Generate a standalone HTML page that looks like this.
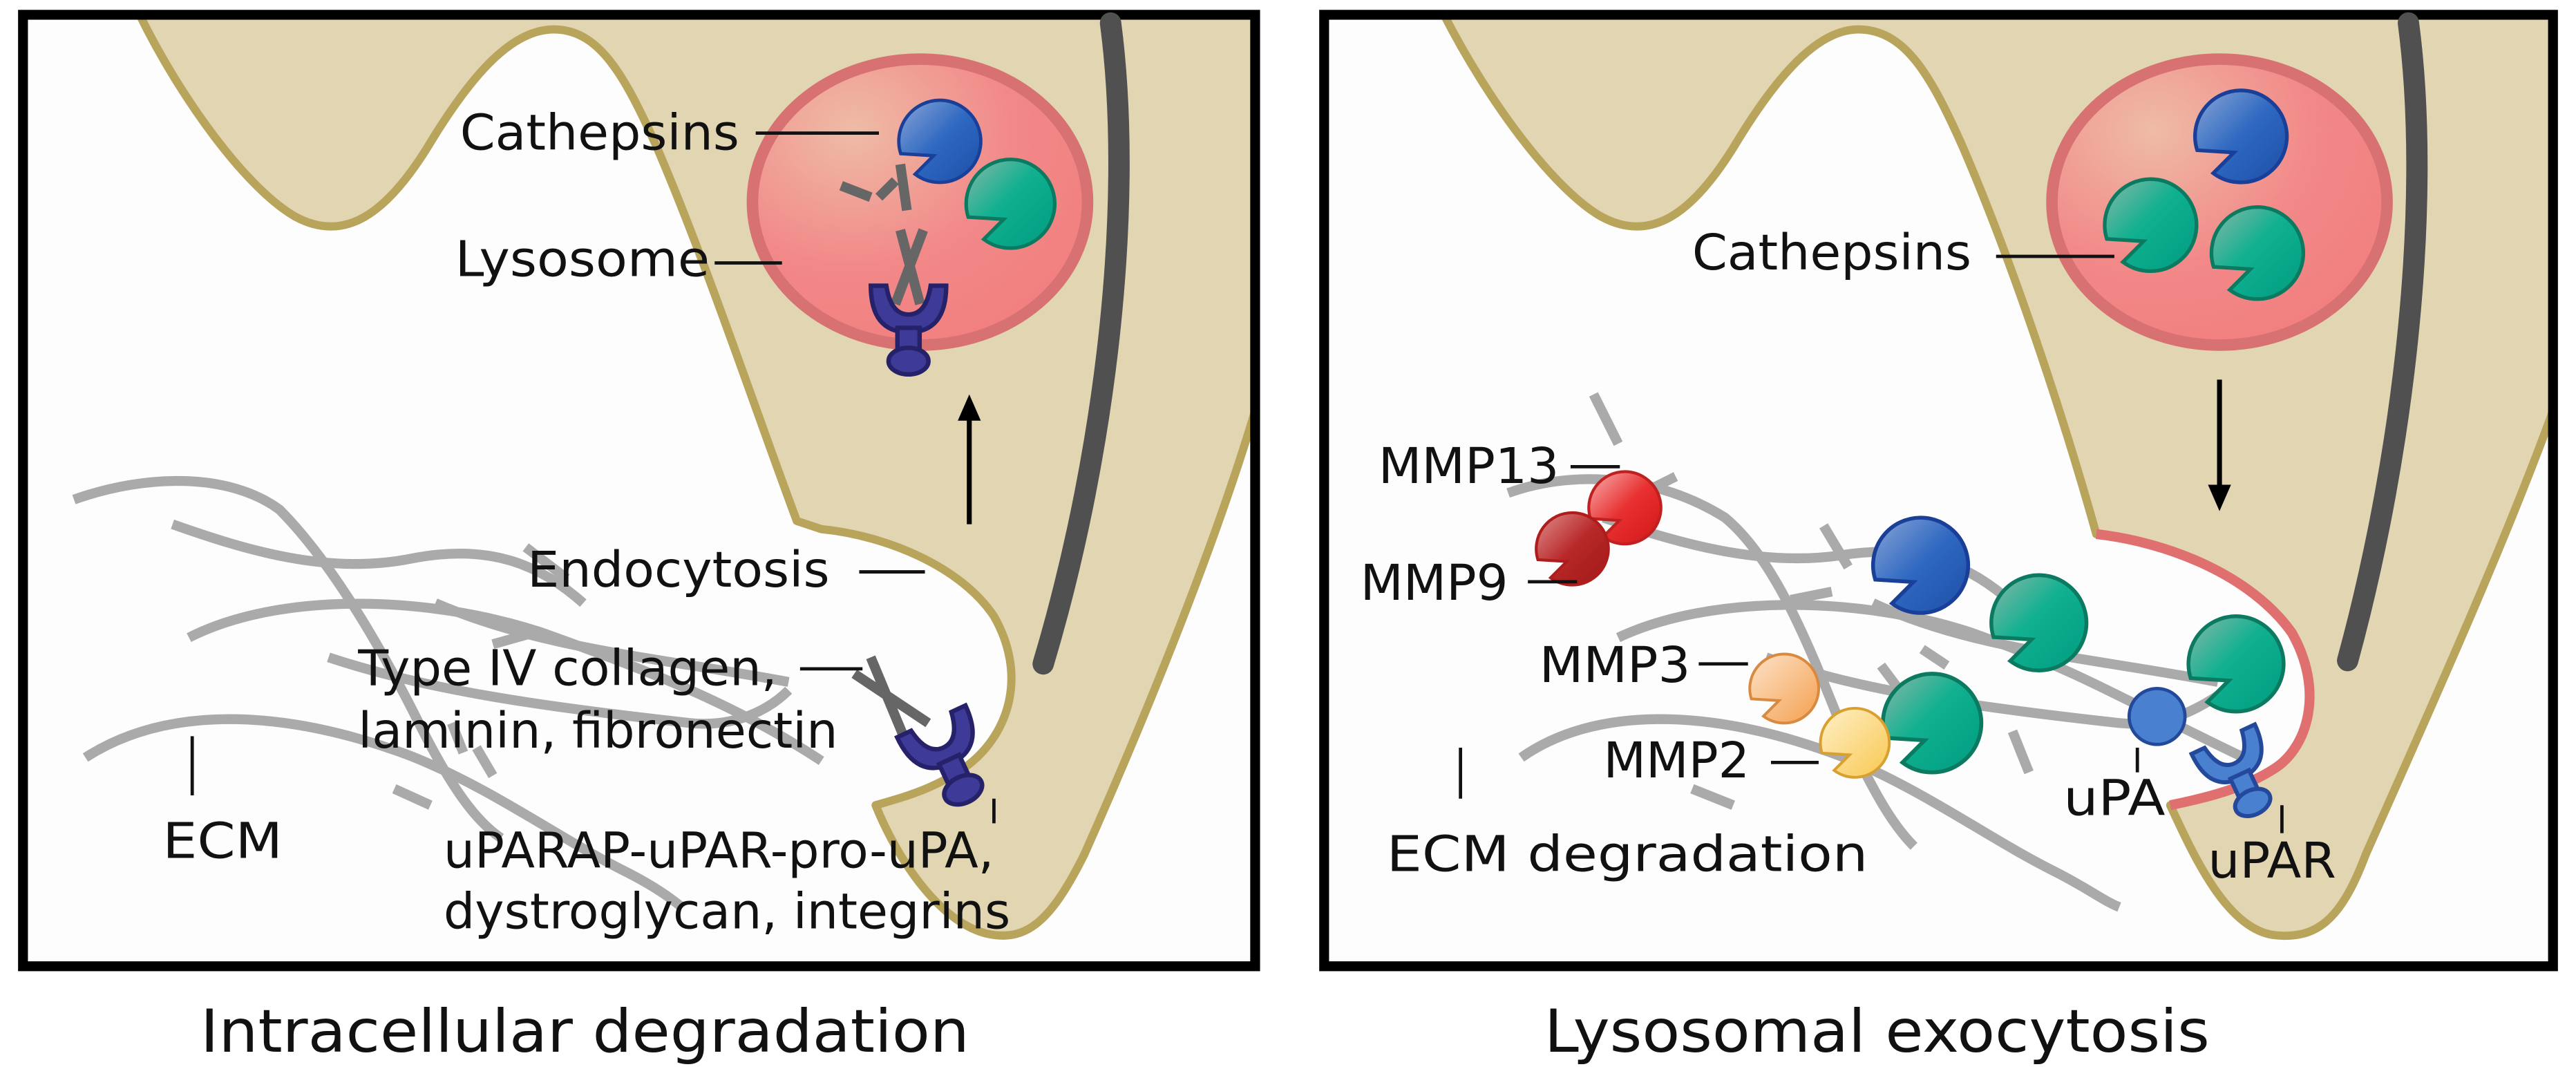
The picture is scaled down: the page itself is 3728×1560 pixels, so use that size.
<!DOCTYPE html>
<html><head><meta charset="utf-8"><style>html,body{margin:0;padding:0;background:#fff}svg{display:block}</style></head>
<body>
<svg width="3728" height="1560" viewBox="0 0 1568 656" preserveAspectRatio="none" xmlns="http://www.w3.org/2000/svg" font-family="'DejaVu Sans','Liberation Sans',sans-serif">
<defs>
<radialGradient id="lys" cx="0.3" cy="0.25" r="0.8"><stop offset="0" stop-color="#eebca6"/><stop offset="0.6" stop-color="#f28888"/><stop offset="1" stop-color="#f28080"/></radialGradient>
<linearGradient id="gB" x1="0" y1="0" x2="1" y2="1"><stop offset="0" stop-color="#8aa6d8"/><stop offset="0.5" stop-color="#2e68c0"/><stop offset="1" stop-color="#1e4fa8"/></linearGradient>
<linearGradient id="gG" x1="0" y1="0" x2="1" y2="1"><stop offset="0" stop-color="#8ab8a8"/><stop offset="0.45" stop-color="#10b090"/><stop offset="1" stop-color="#009c80"/></linearGradient>
<linearGradient id="gR" x1="0" y1="0" x2="1" y2="1"><stop offset="0" stop-color="#f8b0b0"/><stop offset="0.5" stop-color="#e83030"/><stop offset="1" stop-color="#d01818"/></linearGradient>
<linearGradient id="gDR" x1="0" y1="0" x2="1" y2="1"><stop offset="0" stop-color="#e09090"/><stop offset="0.5" stop-color="#b82828"/><stop offset="1" stop-color="#a01818"/></linearGradient>
<linearGradient id="gO" x1="0" y1="0" x2="1" y2="1"><stop offset="0" stop-color="#fde2c8"/><stop offset="1" stop-color="#f4a050"/></linearGradient>
<linearGradient id="gY" x1="0" y1="0" x2="1" y2="1"><stop offset="0" stop-color="#fff0c8"/><stop offset="1" stop-color="#f8c850"/></linearGradient>
</defs>
<rect width="1568" height="656" fill="#fff"/>

<!-- ============ LEFT PANEL ============ -->
<rect x="14" y="9" width="750" height="579" fill="#fdfdfd"/>
<path d="M85 9 C110 60 150 115 180 132 C210 148 235 130 260 90 C290 40 315 16 340 18 C365 20 380 45 400 90 C430 160 460 250 485 317 L500 322 C540 326 585 345 605 375 C625 410 615 445 590 465 C570 480 550 485 533 490 C545 520 570 560 600 568 C625 574 640 560 660 520 C700 430 740 330 764 250 L764 9 Z" fill="#e1d5b2" stroke="#b9a45c" stroke-width="5" stroke-linejoin="round"/>
<rect x="14" y="9" width="750" height="579" fill="none" stroke="#000" stroke-width="6"/>
<path d="M676 14 C690 120 675 270 635 404" fill="none" stroke="#505050" stroke-width="13" stroke-linecap="round"/>
<ellipse cx="560" cy="123" rx="102" ry="87" fill="url(#lys)" stroke="#d87272" stroke-width="7"/>
<g fill="none" stroke="#aaa" stroke-width="6">
<path d="M45 304 C90 288 140 288 170 310 C200 340 230 390 255 440 C275 480 290 500 305 510"/>
<path d="M105 319 C150 335 200 350 250 340 C300 330 330 345 355 367"/>
<path d="M115 388 C170 360 260 362 330 385 C400 410 450 430 500 463"/>
<path d="M52 461 C100 430 170 430 250 460 C300 480 340 510 380 530 C400 540 410 548 415 552"/>
<path d="M265 367 C330 395 400 400 480 415"/>
<path d="M200 400 C260 420 330 430 420 440 C450 443 470 430 480 420"/>
<path d="M320 333 L345 352 M300 392 L325 385 M275 440 L282 458 M240 480 L262 490 M290 455 L300 472"/>
</g>
<g stroke="#666" stroke-width="6" fill="none">
<path d="M520 410 L565 440 M530 400 L555 460"/>
<path d="M545 185 L562 140 M560 185 L548 140 M512 113 L530 120 M535 120 L545 110 M548 100 L552 128"/>
</g>
<g transform="translate(572,86) scale(25)" fill="url(#gB)" stroke="#1a3f98" stroke-width="0.08"><path d="M-0.6 0.8 A1 1 0 0 0 0.6 0.8 A1 1 0 0 0 0 -1 A1 1 0 0 0 -0.95 0.3 L-0.15 0.35 Z"/></g>
<g transform="translate(615,124) scale(27)" fill="url(#gG)" stroke="#0c7a60" stroke-width="0.08"><path d="M-0.6 0.8 A1 1 0 0 0 0.6 0.8 A1 1 0 0 0 0 -1 A1 1 0 0 0 -0.95 0.3 L-0.15 0.35 Z"/></g>
<g fill="#3d3a98" stroke="#26226a" stroke-width="2">
<g transform="translate(553,186) scale(1.35)"><path d="M-17 -9 Q-17 12 0 12 Q17 12 17 -9 L10 -9 Q8 4 0 4 Q-8 4 -10 -9 Z"/><rect x="-5" y="10" width="10" height="14"/><ellipse cx="0" cy="25" rx="9" ry="6"/></g>
<g transform="translate(572,450) rotate(-25) scale(1.35)"><path d="M-17 -9 Q-17 12 0 12 Q17 12 17 -9 L10 -9 Q8 4 0 4 Q-8 4 -10 -9 Z"/><rect x="-5" y="10" width="10" height="14"/><ellipse cx="0" cy="25" rx="9" ry="6"/></g>
</g>
<line x1="590" y1="319" x2="590" y2="255" stroke="#000" stroke-width="3"/>
<path d="M583 256 L590 240 L597 256 Z" fill="#000"/>
<g fill="#111" font-size="30">
<text x="280" y="91" textLength="170" lengthAdjust="spacingAndGlyphs">Cathepsins</text>
<text x="277" y="168" textLength="155" lengthAdjust="spacingAndGlyphs">Lysosome</text>
<text x="321" y="357" textLength="184" lengthAdjust="spacingAndGlyphs">Endocytosis</text>
<text x="218" y="417" textLength="255" lengthAdjust="spacingAndGlyphs">Type IV collagen,</text>
<text x="218" y="455" textLength="292" lengthAdjust="spacingAndGlyphs">laminin, fibronectin</text>
<text x="99" y="522" textLength="73" lengthAdjust="spacingAndGlyphs">ECM</text>
<text x="270" y="528" textLength="335" lengthAdjust="spacingAndGlyphs">uPARAP-uPAR-pro-uPA,</text>
<text x="270" y="565" textLength="345" lengthAdjust="spacingAndGlyphs">dystroglycan, integrins</text>
<text x="122" y="640" font-size="36" textLength="468" lengthAdjust="spacingAndGlyphs">Intracellular degradation</text>
</g>
<g stroke="#111" stroke-width="2">
<line x1="460" y1="81" x2="535" y2="81"/><line x1="435" y1="160" x2="476" y2="160"/>
<line x1="523" y1="348" x2="563" y2="348"/><line x1="487" y1="407" x2="525" y2="407"/>
<line x1="117" y1="448" x2="117" y2="484"/><line x1="605" y1="486" x2="605" y2="501"/>
</g>

<!-- ============ RIGHT PANEL ============ -->
<rect x="806" y="9" width="748" height="579" fill="#fdfdfd"/>
<path d="M879 9 C905 60 945 115 975 132 C1005 148 1030 130 1055 90 C1085 40 1110 16 1134 18 C1160 20 1175 45 1195 90 C1225 160 1255 250 1276 325 C1320 330 1370 350 1395 385 C1415 420 1405 455 1384 468 C1365 480 1345 485 1321 490 C1335 520 1355 565 1384 569 C1410 572 1425 560 1440 520 C1480 430 1525 330 1554 250 L1554 9 Z" fill="#e1d5b2" stroke="#b9a45c" stroke-width="5" stroke-linejoin="round"/>
<path d="M1276 325 C1320 330 1370 350 1395 385 C1415 420 1405 455 1384 468 C1365 480 1345 485 1321 490" fill="none" stroke="#e07070" stroke-width="6"/>
<rect x="806" y="9" width="748" height="579" fill="none" stroke="#000" stroke-width="6"/>
<path d="M1466 14 C1480 120 1465 270 1429 402" fill="none" stroke="#505050" stroke-width="13" stroke-linecap="round"/>
<ellipse cx="1351" cy="123" rx="102" ry="87" fill="url(#lys)" stroke="#d87272" stroke-width="7"/>
<g fill="none" stroke="#aaa" stroke-width="6">
<path d="M918 300 C960 285 1010 290 1050 315 C1080 340 1100 390 1120 440 C1140 480 1150 500 1165 515"/>
<path d="M976 315 C1020 330 1070 345 1120 338 C1170 330 1200 345 1225 367"/>
<path d="M985 388 C1040 362 1130 362 1200 385 C1270 410 1300 430 1370 463"/>
<path d="M926 461 C970 430 1040 430 1120 460 C1170 480 1210 510 1250 530 C1270 540 1280 548 1290 552"/>
<path d="M1140 367 C1200 395 1270 400 1350 415"/>
<path d="M1075 400 C1130 420 1200 430 1290 440 C1320 443 1340 430 1355 420"/>
<path d="M970 240 L985 270 M1000 300 L1020 290 M1110 320 L1125 345 M1090 365 L1115 360 M1170 395 L1185 405 M1145 405 L1160 425 M1225 445 L1235 470 M1030 480 L1055 490 M1085 405 L1095 425"/>
</g>
<g stroke-width="0.08">
<g transform="translate(1364,83) scale(28)" fill="url(#gB)" stroke="#1a3f98"><path d="M-0.6 0.8 A1 1 0 0 0 0.6 0.8 A1 1 0 0 0 0 -1 A1 1 0 0 0 -0.95 0.3 L-0.15 0.35 Z"/></g>
<g transform="translate(1309,137) scale(28)" fill="url(#gG)" stroke="#0c7a60"><path d="M-0.6 0.8 A1 1 0 0 0 0.6 0.8 A1 1 0 0 0 0 -1 A1 1 0 0 0 -0.95 0.3 L-0.15 0.35 Z"/></g>
<g transform="translate(1374,154) scale(28)" fill="url(#gG)" stroke="#0c7a60"><path d="M-0.6 0.8 A1 1 0 0 0 0.6 0.8 A1 1 0 0 0 0 -1 A1 1 0 0 0 -0.95 0.3 L-0.15 0.35 Z"/></g>
<g transform="translate(1169,344) scale(29)" fill="url(#gB)" stroke="#1a3f98"><path d="M-0.6 0.8 A1 1 0 0 0 0.6 0.8 A1 1 0 0 0 0 -1 A1 1 0 0 0 -0.95 0.3 L-0.15 0.35 Z"/></g>
<g transform="translate(1241,379) scale(29)" fill="url(#gG)" stroke="#0c7a60"><path d="M-0.6 0.8 A1 1 0 0 0 0.6 0.8 A1 1 0 0 0 0 -1 A1 1 0 0 0 -0.95 0.3 L-0.15 0.35 Z"/></g>
<g transform="translate(1361,404) scale(29)" fill="url(#gG)" stroke="#0c7a60"><path d="M-0.6 0.8 A1 1 0 0 0 0.6 0.8 A1 1 0 0 0 0 -1 A1 1 0 0 0 -0.95 0.3 L-0.15 0.35 Z"/></g>
<g transform="translate(1176,440) scale(30)" fill="url(#gG)" stroke="#0c7a60"><path d="M-0.6 0.8 A1 1 0 0 0 0.6 0.8 A1 1 0 0 0 0 -1 A1 1 0 0 0 -0.95 0.3 L-0.15 0.35 Z"/></g>
<g transform="translate(989,309) scale(22)" fill="url(#gR)" stroke="#c02020"><path d="M-0.6 0.8 A1 1 0 0 0 0.6 0.8 A1 1 0 0 0 0 -1 A1 1 0 0 0 -0.95 0.3 L-0.15 0.35 Z"/></g>
<g transform="translate(957,334) scale(22)" fill="url(#gDR)" stroke="#b01c1c"><path d="M-0.6 0.8 A1 1 0 0 0 0.6 0.8 A1 1 0 0 0 0 -1 A1 1 0 0 0 -0.95 0.3 L-0.15 0.35 Z"/></g>
<g transform="translate(1086,419) scale(21)" fill="url(#gO)" stroke="#d88a40"><path d="M-0.6 0.8 A1 1 0 0 0 0.6 0.8 A1 1 0 0 0 0 -1 A1 1 0 0 0 -0.95 0.3 L-0.15 0.35 Z"/></g>
<g transform="translate(1129,452) scale(21)" fill="url(#gY)" stroke="#d8a030"><path d="M-0.6 0.8 A1 1 0 0 0 0.6 0.8 A1 1 0 0 0 0 -1 A1 1 0 0 0 -0.95 0.3 L-0.15 0.35 Z"/></g>
</g>
<circle cx="1313" cy="436" r="17" fill="#4a80d0" stroke="#24489a" stroke-width="2"/>
<g transform="translate(1358,460) rotate(-25) scale(1.25)" fill="#4a80d0" stroke="#24489a" stroke-width="2"><path d="M-17 -9 Q-17 12 0 12 Q17 12 17 -9 L10 -9 Q8 4 0 4 Q-8 4 -10 -9 Z"/><rect x="-5" y="10" width="10" height="14"/><ellipse cx="0" cy="25" rx="9" ry="6"/></g>
<line x1="1351" y1="231" x2="1351" y2="296" stroke="#000" stroke-width="3"/>
<path d="M1344 295 L1351 311 L1358 295 Z" fill="#000"/>
<g fill="#111" font-size="30">
<text x="1030" y="164" textLength="170" lengthAdjust="spacingAndGlyphs">Cathepsins</text>
<text x="839" y="294" textLength="110" lengthAdjust="spacingAndGlyphs">MMP13</text>
<text x="828" y="365" textLength="90" lengthAdjust="spacingAndGlyphs">MMP9</text>
<text x="937" y="415" textLength="92" lengthAdjust="spacingAndGlyphs">MMP3</text>
<text x="976" y="473" textLength="89" lengthAdjust="spacingAndGlyphs">MMP2</text>
<text x="1256" y="496" textLength="62" lengthAdjust="spacingAndGlyphs">uPA</text>
<text x="1344" y="534" textLength="78" lengthAdjust="spacingAndGlyphs">uPAR</text>
<text x="844" y="530" textLength="293" lengthAdjust="spacingAndGlyphs">ECM degradation</text>
<text x="940" y="640" font-size="36" textLength="405" lengthAdjust="spacingAndGlyphs">Lysosomal exocytosis</text>
</g>
<g stroke="#111" stroke-width="2">
<line x1="1215" y1="156" x2="1287" y2="156"/>
<line x1="956" y1="284" x2="986" y2="284"/><line x1="930" y1="354" x2="960" y2="354"/>
<line x1="1034" y1="404" x2="1064" y2="404"/><line x1="1078" y1="464" x2="1107" y2="464"/>
<line x1="1301" y1="455" x2="1301" y2="470"/><line x1="1389" y1="490" x2="1389" y2="507"/>
<line x1="889" y1="455" x2="889" y2="486"/>
</g>
</svg>
</body></html>
